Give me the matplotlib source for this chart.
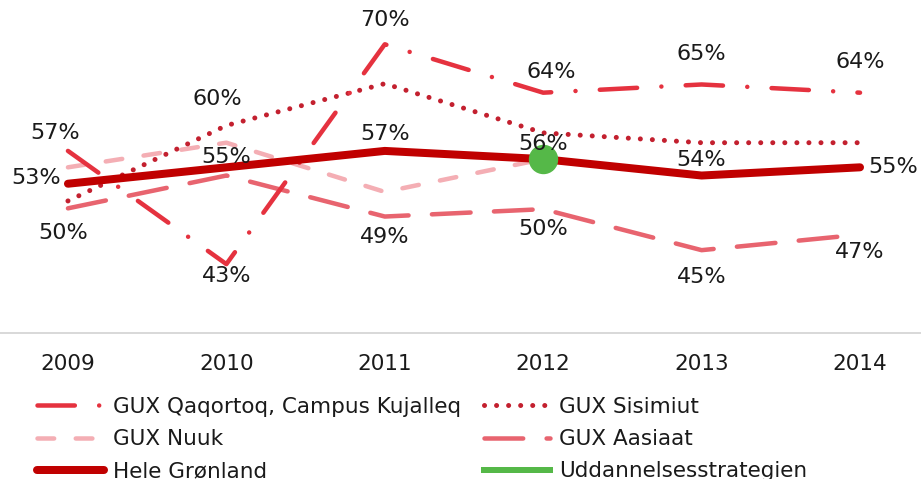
import numpy as np
import matplotlib.pyplot as plt

# data (percent)
years = ["2009", "2010", "2011", "2012", "2013", "2014"]
qaqortoq = [57.0, 43.2, 70.0, 64.1, 65.1, 64.1]
sisimiut = [50.9, 60.1, 65.2, 59.2, 58.0, 58.0]
nuuk = [55.0, 58.0, 52.0, 56.0, np.nan, np.nan]
aasiaat = [50.0, 54.0, 49.0, 49.9, 44.9, 46.8]
hele = [53.0, 55.0, 57.0, 56.0, 54.0, 55.0]
strategi = [np.nan, np.nan, np.nan, 56.0, np.nan, np.nan]

plt.rcParams['font.family'] = 'DejaVu Sans'
FS = 15.5
PX = 0.72  # pixel -> point at 100 dpi

fig = plt.figure(figsize=(9.21, 4.79), dpi=100)
ax = fig.add_axes([0, 1 - 333 / 479, 1, 333 / 479])
x = np.arange(len(years))

c_qaq = "#E5323F"
c_sis = "#C3202F"
c_nuuk = "#F4AEB4"
c_aas = "#E8646F"
c_hele = "#C00000"
c_green = "#55B848"

lw = 4.5 * PX
ax.plot(x, nuuk, color=c_nuuk, lw=lw, linestyle=(0, (3.7, 4.8)),
        dash_capstyle='round', label="GUX Nuuk", zorder=2)
ax.plot(x, aasiaat, color=c_aas, lw=lw, linestyle=(0, (8.6, 5.2)),
        dash_capstyle='round', label="GUX Aasiaat", zorder=2)
ax.plot(x, sisimiut, color=c_sis, lw=5 * PX, linestyle=(0, (0.01, 2.4)),
        dash_capstyle='round', label="GUX Sisimiut", zorder=3)
ax.plot(x, qaqortoq, color=c_qaq, lw=lw, linestyle=(0, (8.3, 5.4, 0.01, 5.4)),
        dash_capstyle='round', label="GUX Qaqortoq, Campus Kujalleq", zorder=3)
ax.plot(x, hele, color=c_hele, lw=8 * PX, solid_capstyle='round',
        label="Hele Grønland", zorder=4)
ax.plot(x, strategi, color=c_green, marker='o', markersize=28 * PX, lw=6 * PX,
        label="Uddannelsesstrategien", zorder=5)

# data labels: (series, index) -> offset in pixels (dx right, dy down)
labels = [
    (qaqortoq, {0: (-13, -18), 1: (0, 12), 2: (0, -24), 3: (8, -21), 4: (0, -30), 5: (0, -31)}),
    (hele, {0: (-32, -6), 1: (0, -10), 2: (0, -17), 3: (0, -15), 4: (0, -16), 5: (33, 0)}),
    (aasiaat, {0: (-5, 25), 2: (0, 20), 3: (0, 20), 4: (0, 27), 5: (0, 17)}),
    (sisimiut, {1: (-9, -26)}),
]
for series, offs in labels:
    for i, (dx, dy) in offs.items():
        ax.annotate(f"{series[i]:.0f}%", (x[i], series[i]), xytext=(dx * PX, -dy * PX),
                    textcoords='offset points', ha='center', va='center',
                    fontsize=16, color='#1a1a1a', zorder=6)

ax.set_xlim(-0.429, 5.385)
ax.set_ylim(34.8, 75.4)
ax.set_xticks(x)
ax.set_xticklabels(years, fontsize=FS, color='#1a1a1a')
ax.tick_params(axis='x', length=0, pad=15)
ax.set_yticks([])
for s in ['top', 'left', 'right']:
    ax.spines[s].set_visible(False)
ax.spines['bottom'].set_color('#D9D9D9')
ax.spines['bottom'].set_linewidth(2 * PX)

handles, names = ax.get_legend_handles_labels()
order = ["GUX Qaqortoq, Campus Kujalleq", "GUX Nuuk", "Hele Grønland",
         "GUX Sisimiut", "GUX Aasiaat", "Uddannelsesstrategien"]
hmap = dict(zip(names, handles))
leg = fig.legend([hmap[n] for n in order], order, ncol=2, loc='upper left',
                 bbox_to_anchor=(37 / 921, 1 - 397 / 479), frameon=False,
                 fontsize=FS, handlelength=3.1, handletextpad=0.42,
                 columnspacing=1.05, labelspacing=0.56, borderpad=0, borderaxespad=0)
for line in leg.get_lines():
    line.set_marker('None')
for t in leg.get_texts():
    t.set_color('#1a1a1a')

fig.savefig("out.png", dpi=100)
